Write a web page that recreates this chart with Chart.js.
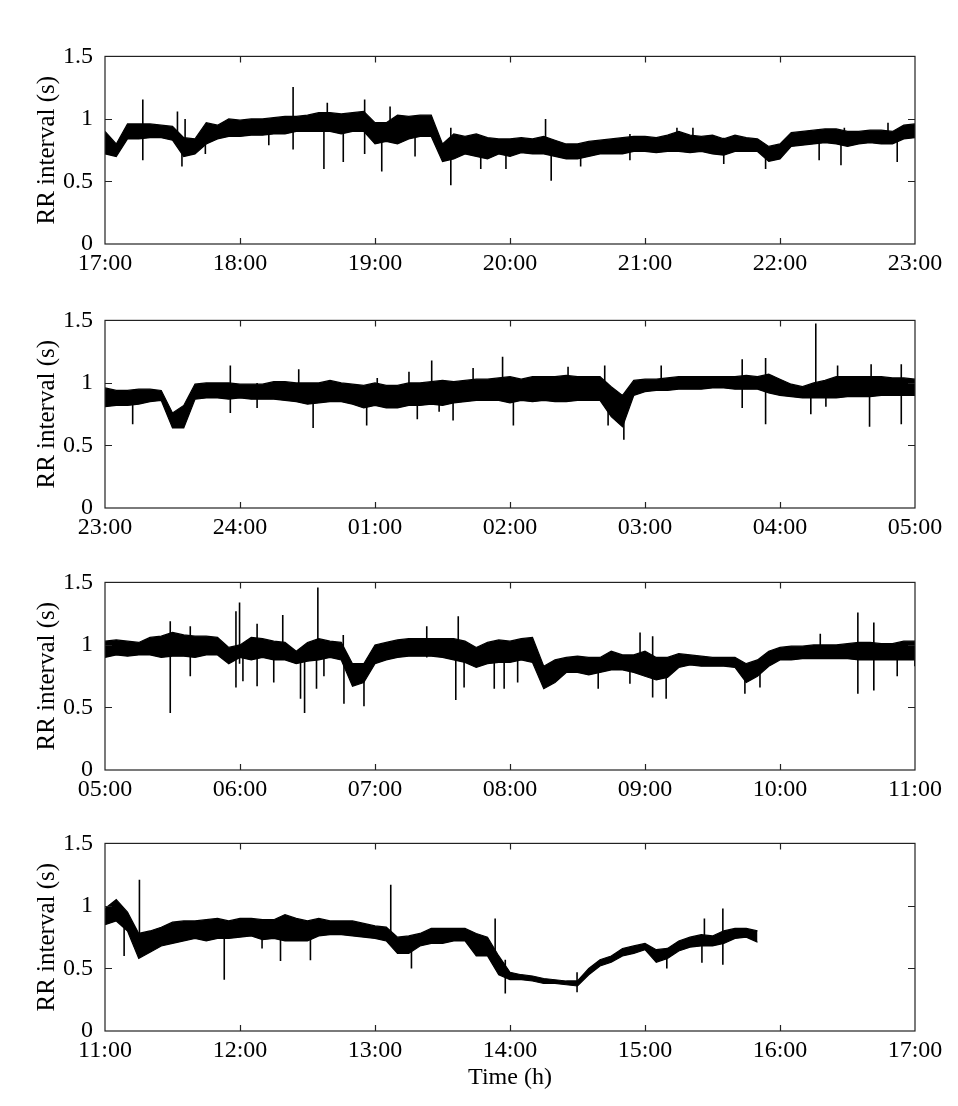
<!DOCTYPE html>
<html>
<head>
<meta charset="utf-8">
<script src="https://cdn.jsdelivr.net/npm/chart.js@4/dist/chart.umd.min.js"></script>
<style>
  html, body { margin: 0; padding: 0; background: #fff; }
  #wrap { position: relative; width: 958px; height: 1106px; overflow: hidden; }
  #wrap canvas { position: absolute; left: 0; }
</style>
</head>
<body>
<div id="wrap"></div>
<script>
// RR interval traces, 4 panels of 6 h each.
// Band is read every 5 min (lower / upper edge of the dense trace), spikes are listed apart.
const binStep = 5; // minutes between band samples
const yTicks = ['0', '0.5', '1', '1.5'];

// --- panel 1: 17:00 - 23:00
const xTicks1 = ['17:00', '18:00', '19:00', '20:00', '21:00', '22:00', '23:00'];
const lo1 = [0.72, 0.70, 0.84, 0.84, 0.85, 0.85, 0.83, 0.70, 0.72, 0.80, 0.84, 0.86, 0.86, 0.87, 0.87, 0.88, 0.88, 0.90, 0.90,
  0.90, 0.90, 0.88, 0.90, 0.90, 0.80, 0.82, 0.80, 0.84, 0.86, 0.86, 0.66, 0.68, 0.72, 0.70, 0.68, 0.72, 0.70,
  0.73, 0.72, 0.72, 0.70, 0.68, 0.68, 0.70, 0.72, 0.72, 0.72, 0.74, 0.74, 0.73, 0.74, 0.74, 0.73, 0.74, 0.72,
  0.71, 0.74, 0.74, 0.74, 0.66, 0.68, 0.78, 0.79, 0.80, 0.81, 0.80, 0.78, 0.80, 0.81, 0.80, 0.80, 0.84, 0.85];
const hi1 = [0.90, 0.80, 0.96, 0.96, 0.96, 0.95, 0.94, 0.85, 0.84, 0.97, 0.95, 1.00, 0.99, 1.00, 1.00, 1.01, 1.02, 1.02, 1.03,
  1.05, 1.05, 1.04, 1.05, 1.06, 0.97, 0.97, 1.03, 1.02, 1.03, 1.03, 0.80, 0.88, 0.86, 0.88, 0.85, 0.84, 0.84,
  0.85, 0.84, 0.86, 0.83, 0.80, 0.80, 0.82, 0.83, 0.84, 0.85, 0.86, 0.86, 0.85, 0.87, 0.90, 0.87, 0.86, 0.87,
  0.84, 0.87, 0.85, 0.84, 0.78, 0.80, 0.89, 0.90, 0.91, 0.92, 0.92, 0.90, 0.90, 0.91, 0.91, 0.90, 0.95, 0.96];
const spikeT1 = [16.8, 32.2, 34.2, 35.6, 44.6, 72.8, 83.6, 97.3, 98.8, 105.9, 115.4, 123, 126.7, 137.8, 153.7, 167, 178.2,
  195.8, 198.3, 211.4, 233.3, 254.2, 261.3, 275, 293.6, 317.4, 327.1, 328.6, 348, 352.1];
const spikeLo1 = [0.67, 0.85, 0.62, 0.75, 0.72, 0.79, 0.755, 0.60, 0.90, 0.655, 0.72, 0.58, 0.85, 0.70, 0.47, 0.60, 0.60,
  0.80, 0.505, 0.62, 0.67, 0.80, 0.80, 0.64, 0.60, 0.67, 0.63, 0.85, 0.85, 0.655];
const spikeHi1 = [1.155, 1.06, 0.85, 1.00, 0.90, 0.95, 1.255, 1.00, 1.13, 1.00, 1.155, 0.95, 1.10, 1.00, 0.93, 0.80, 0.80,
  1.00, 0.80, 0.80, 0.88, 0.93, 0.93, 0.85, 0.78, 0.90, 0.90, 0.93, 0.97, 0.90];

// --- panel 2: 23:00 - 05:00
const xTicks2 = ['23:00', '24:00', '01:00', '02:00', '03:00', '04:00', '05:00'];
const lo2 = [0.81, 0.82, 0.82, 0.83, 0.85, 0.86, 0.64, 0.64, 0.87, 0.88, 0.88, 0.87, 0.88, 0.87, 0.87, 0.87, 0.86, 0.85, 0.83,
  0.84, 0.85, 0.85, 0.83, 0.80, 0.82, 0.80, 0.80, 0.82, 0.82, 0.83, 0.82, 0.84, 0.85, 0.86, 0.86, 0.86, 0.84,
  0.86, 0.85, 0.86, 0.85, 0.85, 0.86, 0.86, 0.86, 0.73, 0.65, 0.90, 0.93, 0.94, 0.94, 0.95, 0.95, 0.95, 0.96,
  0.96, 0.95, 0.95, 0.95, 0.92, 0.90, 0.89, 0.88, 0.88, 0.88, 0.88, 0.89, 0.89, 0.89, 0.90, 0.90, 0.90, 0.90];
const hi2 = [0.96, 0.94, 0.94, 0.95, 0.95, 0.94, 0.76, 0.82, 0.99, 1.00, 1.00, 1.00, 0.99, 0.99, 0.99, 1.01, 1.01, 1.00, 1.00,
  1.00, 1.02, 1.00, 0.99, 0.98, 1.00, 0.98, 0.98, 1.00, 1.00, 1.01, 1.02, 1.01, 1.02, 1.03, 1.03, 1.04, 1.05,
  1.03, 1.05, 1.05, 1.05, 1.06, 1.05, 1.05, 1.05, 0.97, 0.90, 1.02, 1.03, 1.03, 1.04, 1.05, 1.05, 1.05, 1.05,
  1.05, 1.05, 1.06, 1.05, 1.07, 1.03, 0.99, 0.97, 1.00, 1.02, 1.05, 1.05, 1.05, 1.05, 1.05, 1.04, 1.04, 1.03];
const spikeT2 = [12.3, 55.7, 67.6, 86.1, 92.5, 116.3, 121, 135.1, 138.8, 145.2, 148.5, 154.7, 163.6, 176.7, 181.5,
  205.8, 222.1, 223.6, 230.6, 247.2, 283.2, 293.6, 313.7, 315.9, 320.4, 325.6, 339.8, 340.5, 353.9];
const spikeLo2 = [0.67, 0.76, 0.80, 0.90, 0.64, 0.66, 0.90, 0.90, 0.71, 0.90, 0.77, 0.70, 0.90, 0.90, 0.66,
  0.90, 0.90, 0.66, 0.545, 0.95, 0.80, 0.67, 0.75, 0.90, 0.81, 0.95, 0.65, 0.95, 0.67];
const spikeHi2 = [0.90, 1.14, 1.00, 1.11, 0.95, 0.95, 1.04, 1.09, 0.95, 1.18, 0.95, 0.95, 1.12, 1.21, 0.95,
  1.13, 1.14, 0.90, 0.85, 1.14, 1.19, 1.20, 0.95, 1.475, 0.95, 1.14, 1.00, 1.15, 1.15];

// --- panel 3: 05:00 - 11:00
const xTicks3 = ['05:00', '06:00', '07:00', '08:00', '09:00', '10:00', '11:00'];
const lo3 = [0.90, 0.92, 0.91, 0.92, 0.92, 0.90, 0.91, 0.91, 0.90, 0.92, 0.92, 0.85, 0.90, 0.88, 0.90, 0.88, 0.88, 0.85, 0.87,
  0.88, 0.90, 0.88, 0.67, 0.70, 0.85, 0.88, 0.90, 0.91, 0.91, 0.91, 0.90, 0.88, 0.86, 0.82, 0.85, 0.86, 0.86,
  0.88, 0.86, 0.65, 0.70, 0.78, 0.78, 0.76, 0.78, 0.80, 0.80, 0.78, 0.75, 0.72, 0.74, 0.82, 0.84, 0.83, 0.83,
  0.83, 0.82, 0.70, 0.75, 0.83, 0.88, 0.88, 0.89, 0.89, 0.89, 0.89, 0.89, 0.88, 0.88, 0.88, 0.88, 0.88, 0.88];
const hi3 = [1.03, 1.04, 1.03, 1.02, 1.06, 1.07, 1.10, 1.08, 1.07, 1.07, 1.06, 0.98, 1.00, 1.06, 1.05, 1.03, 1.02, 0.95, 1.02,
  1.05, 1.03, 1.02, 0.85, 0.85, 1.00, 1.02, 1.04, 1.05, 1.05, 1.05, 1.05, 1.05, 1.03, 0.98, 1.02, 1.04, 1.03,
  1.05, 1.06, 0.83, 0.88, 0.90, 0.91, 0.90, 0.90, 0.95, 0.92, 0.92, 0.95, 0.90, 0.90, 0.93, 0.92, 0.91, 0.90,
  0.90, 0.90, 0.85, 0.88, 0.95, 0.98, 0.99, 0.99, 1.00, 1.00, 1.00, 1.01, 1.02, 1.02, 1.01, 1.01, 1.03, 1.03];
const spikeT3 = [29, 37.9, 58.2, 59.8, 61.3, 67.6, 75, 79, 86.9, 88.7, 94, 94.6, 97.3, 105.9, 106.2, 115.1, 143, 155.9,
  157, 159.6, 173, 177.4, 183.4, 219.2, 233.3, 237.8, 243.4, 249.4, 284.4, 291.1, 317.9, 334.6, 341.7, 352.1, 359.9];
const spikeLo3 = [0.455, 0.75, 0.66, 0.85, 0.71, 0.67, 0.70, 0.90, 0.57, 0.455, 0.65, 0.90, 0.75, 0.85, 0.53, 0.51, 0.90, 0.56,
  0.90, 0.66, 0.65, 0.65, 0.70, 0.65, 0.69, 0.80, 0.58, 0.57, 0.61, 0.66, 0.90, 0.61, 0.635, 0.75, 0.83];
const spikeHi3 = [1.19, 1.15, 1.27, 1.34, 1.00, 1.17, 1.00, 1.24, 0.95, 0.95, 1.00, 1.46, 1.00, 1.08, 0.85, 0.80, 1.15, 0.95,
  1.23, 0.95, 0.95, 0.95, 0.95, 0.85, 0.90, 1.10, 1.07, 0.85, 0.85, 0.85, 1.09, 1.26, 1.18, 0.95, 0.95];

// --- panel 4: 11:00 - 17:00 (recording stops near 15:50)
const xTicks4 = ['11:00', '12:00', '13:00', '14:00', '15:00', '16:00', '17:00'];
const lo4 = [0.85, 0.88, 0.80, 0.58, 0.63, 0.68, 0.70, 0.72, 0.74, 0.72, 0.74, 0.74, 0.75, 0.76, 0.73, 0.74, 0.72, 0.72, 0.72,
  0.76, 0.77, 0.77, 0.76, 0.75, 0.74, 0.72, 0.62, 0.62, 0.68, 0.70, 0.70, 0.72, 0.72, 0.60, 0.60, 0.45, 0.41,
  0.41, 0.40, 0.38, 0.38, 0.37, 0.36, 0.45, 0.52, 0.55, 0.60, 0.62, 0.65, 0.55, 0.58, 0.64, 0.67, 0.68, 0.68,
  0.70, 0.74, 0.75, 0.71];
const hi4 = [0.98, 1.05, 0.95, 0.78, 0.80, 0.83, 0.87, 0.88, 0.88, 0.89, 0.90, 0.88, 0.90, 0.90, 0.89, 0.89, 0.93, 0.90, 0.88,
  0.90, 0.88, 0.88, 0.88, 0.86, 0.84, 0.83, 0.75, 0.76, 0.78, 0.82, 0.82, 0.82, 0.82, 0.78, 0.75, 0.60, 0.47,
  0.45, 0.44, 0.42, 0.41, 0.40, 0.40, 0.50, 0.57, 0.60, 0.66, 0.68, 0.70, 0.65, 0.66, 0.72, 0.75, 0.77, 0.76,
  0.80, 0.82, 0.82, 0.80];
const spikeT4 = [8.5, 15.3, 53, 69.8, 78, 91.3, 127, 136.2, 173.4, 177.9, 209.8, 249.7, 265.3, 266.4, 274.6];
const spikeLo4 = [0.60, 0.60, 0.41, 0.66, 0.56, 0.565, 0.75, 0.50, 0.60, 0.30, 0.31, 0.50, 0.545, 0.70, 0.53];
const spikeHi4 = [0.95, 1.21, 0.85, 0.85, 0.85, 0.85, 1.17, 0.70, 0.90, 0.57, 0.47, 0.60, 0.75, 0.90, 0.98];

const panels = [
  { top: 45,  xTicks: xTicks1, lo: lo1, hi: hi1, sT: spikeT1, sLo: spikeLo1, sHi: spikeHi1 },
  { top: 309, xTicks: xTicks2, lo: lo2, hi: hi2, sT: spikeT2, sLo: spikeLo2, sHi: spikeHi2 },
  { top: 571, xTicks: xTicks3, lo: lo3, hi: hi3, sT: spikeT3, sLo: spikeLo3, sHi: spikeHi3 },
  { top: 832, xTicks: xTicks4, lo: lo4, hi: hi4, sT: spikeT4, sLo: spikeLo4, sHi: spikeHi4, xTitle: 'Time (h)' }
];

const FONT = "'Liberation Serif', 'Times New Roman', serif";
const plotH = 199, padTop = 15;

function bandPoints(vals) {
  return vals.map((v, i) => ({ x: i * binStep, y: v }));
}
function spikePoints(t, lo, hi) {
  const pts = [];
  t.forEach((tt, i) => {
    pts.push({ x: tt, y: lo[i] }, { x: tt, y: hi[i] }, { x: tt, y: null });
  });
  return pts;
}

// box round the plot + inward tick marks
const frame = {
  id: 'frame',
  afterDraw(chart) {
    const { ctx, chartArea: a, scales: { x, y } } = chart;
    ctx.save();
    ctx.strokeStyle = '#222';
    ctx.lineWidth = 1.2;
    ctx.strokeRect(a.left, a.top, a.right - a.left, a.bottom - a.top);
    ctx.beginPath();
    x.ticks.forEach(t => {
      if (t.value <= x.min || t.value >= x.max) return;
      const px = Math.round(x.getPixelForValue(t.value)) + 0.5;
      ctx.moveTo(px, a.bottom); ctx.lineTo(px, a.bottom - 6);
      ctx.moveTo(px, a.top); ctx.lineTo(px, a.top + 6);
    });
    y.ticks.forEach(t => {
      if (t.value <= y.min || t.value >= y.max) return;
      const py = Math.round(y.getPixelForValue(t.value)) + 0.5;
      ctx.moveTo(a.left, py); ctx.lineTo(a.left + 7, py);
      ctx.moveTo(a.right, py); ctx.lineTo(a.right - 7, py);
    });
    ctx.stroke();
    ctx.restore();
  }
};

const wrap = document.getElementById('wrap');
panels.forEach(p => {
  const axisH = p.xTitle ? 62 : 45;
  const cv = document.createElement('canvas');
  cv.width = 958;
  cv.height = padTop + plotH + axisH;
  cv.style.top = (p.top - padTop) + 'px';
  wrap.appendChild(cv);

  new Chart(cv.getContext('2d'), {
    type: 'line',
    data: {
      datasets: [
        { data: bandPoints(p.hi), borderColor: '#000', borderWidth: 1.2, pointRadius: 0, fill: false },
        { data: bandPoints(p.lo), borderColor: '#000', borderWidth: 1.2, pointRadius: 0, fill: '-1', backgroundColor: '#000' },
        { data: spikePoints(p.sT, p.sLo, p.sHi), borderColor: '#000', borderWidth: 1.6, pointRadius: 0, spanGaps: false, fill: false }
      ]
    },
    options: {
      responsive: false,
      devicePixelRatio: 1,
      animation: false,
      layout: { padding: { left: 0, right: 43, top: padTop, bottom: 0 } },
      plugins: { legend: { display: false }, tooltip: { enabled: false } },
      scales: {
        x: {
          type: 'linear', min: 0, max: 360, offset: false,
          grid: { display: false, drawTicks: false },
          border: { display: false },
          ticks: {
            stepSize: 60, autoSkip: false, maxRotation: 0, padding: 5, color: '#000',
            font: { family: FONT, size: 24 },
            callback: v => p.xTicks[v / 60]
          },
          title: {
            display: !!p.xTitle, text: p.xTitle || '', color: '#000',
            font: { family: FONT, size: 24 }, padding: { top: 0, bottom: 1 }
          },
          afterFit: s => { s.height = axisH; }
        },
        y: {
          min: 0, max: 1.5,
          grid: { display: false, drawTicks: false },
          border: { display: false },
          ticks: {
            stepSize: 0.5, padding: 12, color: '#000',
            font: { family: FONT, size: 24 },
            callback: (v, i) => yTicks[i]
          },
          title: {
            display: true, text: 'RR interval (s)', color: '#000',
            font: { family: FONT, size: 25 }, padding: { top: 32, bottom: 0 }
          },
          afterFit: s => { s.width = 105; }
        }
      }
    },
    plugins: [frame]
  });
});
</script>
</body>
</html>
